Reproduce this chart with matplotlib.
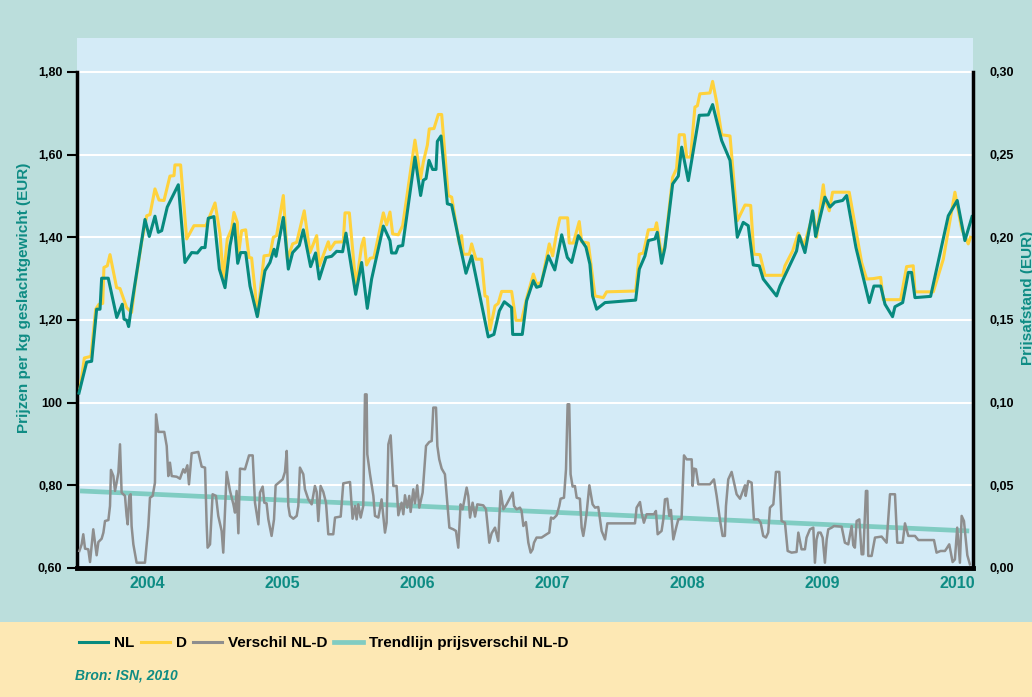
import matplotlib
matplotlib.use("Agg")
import matplotlib.pyplot as plt
from matplotlib.lines import Line2D
from matplotlib.patches import Rectangle

# weekly prices per kg (EUR); x in decimal years
nl_years = [2003.496, 2003.553, 2003.590, 2003.627, 2003.652, 2003.664, 2003.713, 2003.776, 2003.817, 2003.830,
            2003.850, 2003.864, 2003.887, 2003.924, 2003.985, 2004.017, 2004.059, 2004.084, 2004.109, 2004.150,
            2004.232, 2004.281, 2004.331, 2004.373, 2004.405, 2004.430, 2004.454, 2004.496, 2004.536, 2004.578,
            2004.615, 2004.647, 2004.672, 2004.694, 2004.731, 2004.763, 2004.817, 2004.874, 2004.911, 2004.941,
            2004.956, 2005.010, 2005.047, 2005.079, 2005.128, 2005.158, 2005.212, 2005.249, 2005.276, 2005.326,
            2005.368, 2005.405, 2005.449, 2005.474, 2005.546, 2005.590, 2005.632, 2005.664, 2005.751, 2005.800,
            2005.812, 2005.844, 2005.862, 2005.894, 2005.985, 2006.027, 2006.047, 2006.067, 2006.089, 2006.116,
            2006.141, 2006.151, 2006.178, 2006.225, 2006.257, 2006.319, 2006.363, 2006.405, 2006.528, 2006.570,
            2006.610, 2006.647, 2006.701, 2006.709, 2006.780, 2006.812, 2006.862, 2006.886, 2006.916, 2006.973,
            2007.021, 2007.072, 2007.114, 2007.146, 2007.195, 2007.252, 2007.281, 2007.301, 2007.331, 2007.393,
            2007.620, 2007.647, 2007.689, 2007.714, 2007.763, 2007.780, 2007.812, 2007.837, 2007.894, 2007.936,
            2007.961, 2008.010, 2008.091, 2008.158, 2008.190, 2008.257, 2008.319, 2008.373, 2008.417, 2008.454,
            2008.491, 2008.536, 2008.565, 2008.664, 2008.689, 2008.812, 2008.832, 2008.874, 2008.931, 2008.953,
            2009.022, 2009.059, 2009.096, 2009.153, 2009.183, 2009.252, 2009.351, 2009.385, 2009.435, 2009.467,
            2009.523, 2009.541, 2009.598, 2009.640, 2009.664, 2009.689, 2009.805, 2009.936, 2010.002, 2010.059,
            2010.112]
nl_prices = [1.023, 1.098, 1.100, 1.226, 1.226, 1.301, 1.301, 1.206, 1.238, 1.202,
             1.199, 1.184, 1.238, 1.315, 1.443, 1.402, 1.451, 1.412, 1.416, 1.473,
             1.527, 1.339, 1.363, 1.362, 1.375, 1.375, 1.446, 1.450, 1.323, 1.278,
             1.380, 1.432, 1.337, 1.363, 1.363, 1.282, 1.208, 1.319, 1.339, 1.371,
             1.354, 1.448, 1.323, 1.363, 1.380, 1.418, 1.329, 1.362, 1.299, 1.351,
             1.354, 1.366, 1.365, 1.410, 1.262, 1.339, 1.228, 1.299, 1.427, 1.392,
             1.362, 1.362, 1.378, 1.380, 1.594, 1.501, 1.538, 1.542, 1.586, 1.564,
             1.564, 1.632, 1.645, 1.481, 1.478, 1.380, 1.313, 1.355, 1.159, 1.165,
             1.222, 1.244, 1.230, 1.165, 1.165, 1.246, 1.295, 1.279, 1.282, 1.355,
             1.321, 1.406, 1.351, 1.339, 1.404, 1.376, 1.335, 1.258, 1.226, 1.242,
             1.248, 1.323, 1.355, 1.392, 1.396, 1.412, 1.337, 1.375, 1.529, 1.548,
             1.618, 1.537, 1.695, 1.696, 1.721, 1.634, 1.586, 1.400, 1.436, 1.428,
             1.333, 1.331, 1.299, 1.258, 1.282, 1.367, 1.404, 1.363, 1.464, 1.402,
             1.497, 1.473, 1.485, 1.489, 1.501, 1.375, 1.242, 1.282, 1.282, 1.238,
             1.208, 1.232, 1.242, 1.315, 1.315, 1.254, 1.257, 1.452, 1.489, 1.392,
             1.450]

d_years = [2003.504, 2003.536, 2003.585, 2003.620, 2003.644, 2003.672, 2003.681, 2003.706, 2003.726, 2003.775,
           2003.800, 2003.849, 2003.886, 2003.911, 2003.960, 2003.998, 2004.022, 2004.059, 2004.089, 2004.126,
           2004.170, 2004.200, 2004.207, 2004.249, 2004.294, 2004.348, 2004.437, 2004.504, 2004.541, 2004.565,
           2004.595, 2004.627, 2004.644, 2004.669, 2004.677, 2004.701, 2004.731, 2004.756, 2004.775, 2004.820,
           2004.867, 2004.911, 2004.936, 2004.960, 2005.010, 2005.040, 2005.079, 2005.109, 2005.165, 2005.207,
           2005.257, 2005.277, 2005.343, 2005.356, 2005.393, 2005.454, 2005.467, 2005.499, 2005.548, 2005.590,
           2005.607, 2005.627, 2005.652, 2005.681, 2005.751, 2005.775, 2005.800, 2005.820, 2005.862, 2005.894,
           2005.985, 2006.027, 2006.047, 2006.077, 2006.091, 2006.126, 2006.158, 2006.183, 2006.232, 2006.257,
           2006.314, 2006.331, 2006.343, 2006.388, 2006.405, 2006.437, 2006.479, 2006.504, 2006.521, 2006.541,
           2006.578, 2006.602, 2006.627, 2006.701, 2006.733, 2006.775, 2006.812, 2006.862, 2006.886, 2006.923,
           2006.980, 2007.005, 2007.035, 2007.059, 2007.116, 2007.128, 2007.158, 2007.202, 2007.220, 2007.269,
           2007.319, 2007.380, 2007.405, 2007.620, 2007.647, 2007.677, 2007.714, 2007.763, 2007.775, 2007.812,
           2007.837, 2007.894, 2007.923, 2007.943, 2007.980, 2007.998, 2008.027, 2008.059, 2008.077, 2008.096,
           2008.170, 2008.190, 2008.220, 2008.257, 2008.319, 2008.373, 2008.430, 2008.472, 2008.496, 2008.541,
           2008.578, 2008.709, 2008.726, 2008.783, 2008.825, 2008.867, 2008.936, 2008.960, 2009.010, 2009.022,
           2009.054, 2009.079, 2009.202, 2009.294, 2009.331, 2009.380, 2009.435, 2009.454, 2009.583, 2009.627,
           2009.676, 2009.689, 2009.825, 2009.899, 2009.985, 2010.035, 2010.084, 2010.100]
d_prices = [1.035, 1.108, 1.112, 1.226, 1.238, 1.240, 1.327, 1.331, 1.358, 1.278,
            1.276, 1.230, 1.218, 1.283, 1.388, 1.452, 1.455, 1.517, 1.490, 1.489,
            1.548, 1.549, 1.575, 1.575, 1.396, 1.428, 1.428, 1.483, 1.408, 1.299,
            1.396, 1.420, 1.460, 1.436, 1.355, 1.416, 1.418, 1.351, 1.350, 1.210,
            1.355, 1.357, 1.400, 1.404, 1.501, 1.347, 1.384, 1.388, 1.464, 1.363,
            1.404, 1.331, 1.389, 1.370, 1.388, 1.389, 1.459, 1.459, 1.281, 1.380,
            1.398, 1.333, 1.349, 1.351, 1.459, 1.430, 1.461, 1.408, 1.406, 1.428,
            1.635, 1.542, 1.582, 1.623, 1.662, 1.663, 1.697, 1.697, 1.501, 1.497,
            1.384, 1.404, 1.359, 1.359, 1.384, 1.347, 1.347, 1.258, 1.256, 1.176,
            1.234, 1.240, 1.269, 1.269, 1.199, 1.199, 1.252, 1.311, 1.287, 1.291,
            1.384, 1.355, 1.412, 1.447, 1.447, 1.386, 1.386, 1.438, 1.389, 1.386,
            1.258, 1.254, 1.268, 1.270, 1.359, 1.362, 1.418, 1.419, 1.435, 1.355,
            1.380, 1.545, 1.566, 1.648, 1.648, 1.594, 1.594, 1.715, 1.718, 1.747,
            1.749, 1.777, 1.727, 1.648, 1.645, 1.440, 1.478, 1.477, 1.359, 1.358,
            1.308, 1.308, 1.331, 1.367, 1.410, 1.380, 1.458, 1.400, 1.527, 1.494,
            1.464, 1.509, 1.509, 1.339, 1.299, 1.300, 1.303, 1.249, 1.249, 1.329,
            1.331, 1.268, 1.268, 1.347, 1.509, 1.420, 1.384, 1.400]

# price gap NL-D (EUR, right axis)
diff_years = [2003.499, 2003.516, 2003.528, 2003.541, 2003.565, 2003.578, 2003.602, 2003.615, 2003.627, 2003.640,
              2003.664, 2003.677, 2003.689, 2003.714, 2003.726, 2003.733, 2003.751, 2003.763, 2003.775, 2003.788,
              2003.800, 2003.812, 2003.837, 2003.849, 2003.857, 2003.869, 2003.879, 2003.886, 2003.899, 2003.923,
              2003.985, 2004.010, 2004.022, 2004.042, 2004.059, 2004.067, 2004.084, 2004.128, 2004.146, 2004.158,
              2004.170, 2004.183, 2004.220, 2004.244, 2004.269, 2004.281, 2004.299, 2004.311, 2004.331, 2004.380,
              2004.405, 2004.430, 2004.442, 2004.449, 2004.467, 2004.486, 2004.511, 2004.528, 2004.553, 2004.565,
              2004.590, 2004.615, 2004.640, 2004.652, 2004.664, 2004.677, 2004.689, 2004.726, 2004.756, 2004.783,
              2004.800, 2004.825, 2004.837, 2004.857, 2004.869, 2004.886, 2004.899, 2004.923, 2004.941, 2004.953,
              2005.005, 2005.022, 2005.035, 2005.047, 2005.059, 2005.084, 2005.109, 2005.121, 2005.133, 2005.158,
              2005.170, 2005.195, 2005.220, 2005.244, 2005.257, 2005.269, 2005.286, 2005.306, 2005.326, 2005.343,
              2005.380, 2005.393, 2005.435, 2005.454, 2005.504, 2005.523, 2005.541, 2005.553, 2005.565, 2005.583,
              2005.602, 2005.615, 2005.627, 2005.632, 2005.652, 2005.677, 2005.689, 2005.714, 2005.738, 2005.763,
              2005.775, 2005.788, 2005.805, 2005.825, 2005.849, 2005.862, 2005.886, 2005.899, 2005.911, 2005.928,
              2005.943, 2005.953, 2005.973, 2005.985, 2006.002, 2006.017, 2006.042, 2006.067, 2006.091, 2006.109,
              2006.121, 2006.141, 2006.151, 2006.165, 2006.183, 2006.207, 2006.240, 2006.269, 2006.289, 2006.306,
              2006.323, 2006.338, 2006.368, 2006.380, 2006.393, 2006.412, 2006.430, 2006.447, 2006.491, 2006.511,
              2006.536, 2006.553, 2006.578, 2006.602, 2006.620, 2006.640, 2006.664, 2006.709, 2006.719, 2006.738,
              2006.763, 2006.775, 2006.788, 2006.807, 2006.825, 2006.842, 2006.857, 2006.867, 2006.886, 2006.923,
              2006.960, 2006.980, 2006.993, 2007.010, 2007.035, 2007.054, 2007.064, 2007.089, 2007.104, 2007.116,
              2007.128, 2007.138, 2007.153, 2007.170, 2007.183, 2007.207, 2007.220, 2007.232, 2007.244, 2007.257,
              2007.277, 2007.301, 2007.319, 2007.343, 2007.368, 2007.393, 2007.410, 2007.615, 2007.627, 2007.652,
              2007.664, 2007.681, 2007.701, 2007.756, 2007.770, 2007.783, 2007.812, 2007.825, 2007.837, 2007.854,
              2007.869, 2007.881, 2007.899, 2007.923, 2007.936, 2007.960, 2007.978, 2007.998, 2008.035, 2008.042,
              2008.052, 2008.067, 2008.084, 2008.170, 2008.200, 2008.220, 2008.244, 2008.264, 2008.281, 2008.289,
              2008.306, 2008.331, 2008.368, 2008.393, 2008.410, 2008.430, 2008.435, 2008.454, 2008.479, 2008.496,
              2008.528, 2008.546, 2008.565, 2008.585, 2008.602, 2008.615, 2008.640, 2008.659, 2008.684, 2008.701,
              2008.726, 2008.746, 2008.775, 2008.812, 2008.825, 2008.849, 2008.874, 2008.886, 2008.911, 2008.936,
              2008.948, 2008.960, 2008.973, 2008.990, 2009.005, 2009.022, 2009.035, 2009.047, 2009.072, 2009.089,
              2009.146, 2009.170, 2009.195, 2009.220, 2009.232, 2009.244, 2009.257, 2009.277, 2009.294, 2009.306,
              2009.326, 2009.336, 2009.343, 2009.368, 2009.393, 2009.442, 2009.479, 2009.504, 2009.541, 2009.558,
              2009.598, 2009.615, 2009.640, 2009.689, 2009.714, 2009.830, 2009.849, 2009.879, 2009.911, 2009.923,
              2009.943, 2009.968, 2009.985, 2010.002, 2010.022, 2010.035, 2010.052, 2010.077, 2010.096]
diff_values = [0.0103, 0.0143, 0.0204, 0.0117, 0.0113, 0.0036, 0.0234, 0.0153, 0.0077, 0.0157,
               0.0177, 0.0214, 0.0284, 0.0290, 0.0375, 0.0593, 0.0556, 0.0466, 0.0516, 0.0577,
               0.0748, 0.0456, 0.0436, 0.0315, 0.0264, 0.0436, 0.0446, 0.0254, 0.0143, 0.0032,
               0.0032, 0.0254, 0.0425, 0.0436, 0.0516, 0.0929, 0.0823, 0.0823, 0.0738, 0.0556,
               0.0637, 0.0556, 0.0552, 0.0540, 0.0597, 0.0577, 0.0621, 0.0506, 0.0694, 0.0702,
               0.0613, 0.0607, 0.0264, 0.0123, 0.0143, 0.0446, 0.0436, 0.0315, 0.0224, 0.0093,
               0.0581, 0.0466, 0.0385, 0.0335, 0.0466, 0.0210, 0.0601, 0.0597, 0.0681, 0.0681,
               0.0395, 0.0264, 0.0456, 0.0492, 0.0395, 0.0391, 0.0294, 0.0194, 0.0294, 0.0500,
               0.0536, 0.0581, 0.0708, 0.0375, 0.0315, 0.0298, 0.0315, 0.0375, 0.0607, 0.0567,
               0.0476, 0.0415, 0.0385, 0.0496, 0.0460, 0.0284, 0.0496, 0.0460, 0.0395, 0.0204,
               0.0204, 0.0305, 0.0311, 0.0512, 0.0520, 0.0298, 0.0375, 0.0294, 0.0385, 0.0305,
               0.0375, 0.1050, 0.1050, 0.0688, 0.0567, 0.0436, 0.0315, 0.0305, 0.0415, 0.0214,
               0.0274, 0.0748, 0.0802, 0.0496, 0.0496, 0.0319, 0.0395, 0.0325, 0.0440, 0.0365,
               0.0436, 0.0339, 0.0476, 0.0391, 0.0500, 0.0365, 0.0456, 0.0738, 0.0762, 0.0768,
               0.0970, 0.0970, 0.0738, 0.0657, 0.0601, 0.0567, 0.0244, 0.0234, 0.0224, 0.0123,
               0.0385, 0.0355, 0.0486, 0.0436, 0.0305, 0.0395, 0.0311, 0.0385, 0.0379, 0.0355,
               0.0153, 0.0210, 0.0244, 0.0163, 0.0466, 0.0355, 0.0385, 0.0456, 0.0375, 0.0355,
               0.0365, 0.0345, 0.0254, 0.0278, 0.0153, 0.0093, 0.0113, 0.0153, 0.0184, 0.0184,
               0.0204, 0.0214, 0.0305, 0.0298, 0.0319, 0.0375, 0.0419, 0.0425, 0.0597, 0.0990,
               0.0990, 0.0567, 0.0492, 0.0496, 0.0425, 0.0419, 0.0244, 0.0194, 0.0254, 0.0335,
               0.0500, 0.0385, 0.0365, 0.0369, 0.0224, 0.0173, 0.0270, 0.0270, 0.0365, 0.0399,
               0.0335, 0.0274, 0.0325, 0.0325, 0.0345, 0.0204, 0.0224, 0.0294, 0.0415, 0.0419,
               0.0315, 0.0351, 0.0173, 0.0254, 0.0294, 0.0298, 0.0681, 0.0657, 0.0657, 0.0496,
               0.0601, 0.0597, 0.0506, 0.0506, 0.0536, 0.0436, 0.0294, 0.0194, 0.0194, 0.0375,
               0.0536, 0.0581, 0.0446, 0.0419, 0.0456, 0.0500, 0.0436, 0.0526, 0.0516, 0.0294,
               0.0294, 0.0274, 0.0194, 0.0184, 0.0214, 0.0365, 0.0385, 0.0581, 0.0581, 0.0284,
               0.0274, 0.0103, 0.0093, 0.0097, 0.0214, 0.0113, 0.0113, 0.0184, 0.0234, 0.0244,
               0.0032, 0.0173, 0.0214, 0.0214, 0.0184, 0.0032, 0.0173, 0.0234, 0.0244, 0.0254,
               0.0250, 0.0153, 0.0143, 0.0254, 0.0137, 0.0123, 0.0284, 0.0294, 0.0083, 0.0083,
               0.0466, 0.0466, 0.0073, 0.0073, 0.0184, 0.0190, 0.0153, 0.0446, 0.0446, 0.0153,
               0.0153, 0.0270, 0.0194, 0.0194, 0.0169, 0.0169, 0.0093, 0.0103, 0.0103, 0.0117,
               0.0143, 0.0036, 0.0052, 0.0244, 0.0032, 0.0315, 0.0284, 0.0077, 0.0022]

# linear trend of the price gap (start and end)
trend_years = [2003.504, 2010.091]
trend_values = [0.0466, 0.0224]

year_ticks = [2004, 2005, 2006, 2007, 2008, 2009, 2010]
left_ticks = [0.60, 0.80, 1.00, 1.20, 1.40, 1.60, 1.80]
left_labels = ["0,60", "0,80", "100", "1,20", "1,40", "1,60", "1,80"]
right_ticks = [0.00, 0.05, 0.10, 0.15, 0.20, 0.25, 0.30]
right_labels = ["0,00", "0,05", "0,10", "0,15", "0,20", "0,25", "0,30"]

FAM = ["Liberation Sans Narrow", "Liberation Sans", "DejaVu Sans"]
plt.rcParams["font.family"] = FAM

teal_text = "#0E8C84"
c_nl = "#078A7E"
c_d = "#FFD23C"
c_diff = "#8E8E8E"
c_trend = "#80CCC2"

W, H = 1032, 697
fig = plt.figure(figsize=(W / 100, H / 100), dpi=100)
fig.patch.set_facecolor("#BBDEDC")
fig.add_artist(Rectangle((0, 0), 1, 75 / H, transform=fig.transFigure,
                         facecolor="#FDE8B4", edgecolor="none", zorder=0))

ax = fig.add_axes([77 / W, 1 - 568 / H, (973 - 77) / W, (568 - 38) / H])
ax.set_facecolor("#D4EBF7")
ax.set_xlim(2003.4815, 2010.119)
ax.set_ylim(0.6, 1.882)

ax.set_yticks(left_ticks)
ax.set_yticklabels(left_labels, fontweight="bold")
ax.set_xticks(year_ticks)
ax.set_xticklabels([str(y) for y in year_ticks], fontweight="bold")
ax.tick_params(axis="y", length=7, width=1.5, pad=3.5, labelsize=9, color="black")
ax.tick_params(axis="x", length=0, pad=6, labelsize=11.5, labelcolor=teal_text)
ax.grid(axis="y", color="white", linewidth=1.5)
ax.set_axisbelow(True)

for s in ["top", "right"]:
    ax.spines[s].set_visible(False)
ax.spines["left"].set_linewidth(2.5)
ax.spines["left"].set_bounds(0.6, 1.8)
ax.spines["bottom"].set_linewidth(3.5)

ax.plot(d_years, d_prices, color=c_d, lw=2.2, zorder=3)
ax.plot(nl_years, nl_prices, color=c_nl, lw=2.2, zorder=4)

ax2 = ax.twinx()
ax2.set_ylim(0, 0.3205)
ax2.set_yticks(right_ticks)
ax2.set_yticklabels(right_labels, fontweight="bold")
ax2.tick_params(axis="y", length=0, pad=12, labelsize=9)
for s in ["top", "left", "bottom"]:
    ax2.spines[s].set_visible(False)
ax2.spines["right"].set_linewidth(2.5)
ax2.spines["right"].set_bounds(0, 0.30)

ax2.plot(trend_years, trend_values, color=c_trend, lw=3.4, solid_capstyle="butt", zorder=2)
ax2.plot(diff_years, diff_values, color=c_diff, lw=1.8, zorder=3)

fig.text(24 / W, 1 - 298 / H, "Prijzen per kg geslachtgewicht (EUR)", rotation=90,
         ha="center", va="center", color=teal_text, fontsize=11, fontweight="bold")
# the right-hand axis title runs off the image edge, as in the original
fig.text(1021 / W, 1 - 298 / H, "Prijsafstand (EUR)", rotation=90,
         ha="left", va="center", color=teal_text, fontsize=11, fontweight="bold")

handles = [Line2D([], [], color=c_nl, lw=2.2),
           Line2D([], [], color=c_d, lw=2.2),
           Line2D([], [], color=c_diff, lw=2.2),
           Line2D([], [], color=c_trend, lw=3.4)]
labels = ["NL", "D", "Verschil NL-D", "Trendlijn prijsverschil NL-D"]
fig.legend(handles, labels, loc="center left", bbox_to_anchor=(79 / W, 1 - 643 / H),
           ncol=4, frameon=False, borderpad=0, borderaxespad=0,
           handlelength=1.9, handletextpad=0.4, columnspacing=0.4,
           prop={"weight": "bold", "size": 11})

fig.text(75 / W, 1 - 675 / H, "Bron: ISN, 2010", color=teal_text, fontsize=10,
         fontweight="bold", style="italic", va="center")

fig.savefig("out.png", dpi=100, facecolor=fig.get_facecolor())
